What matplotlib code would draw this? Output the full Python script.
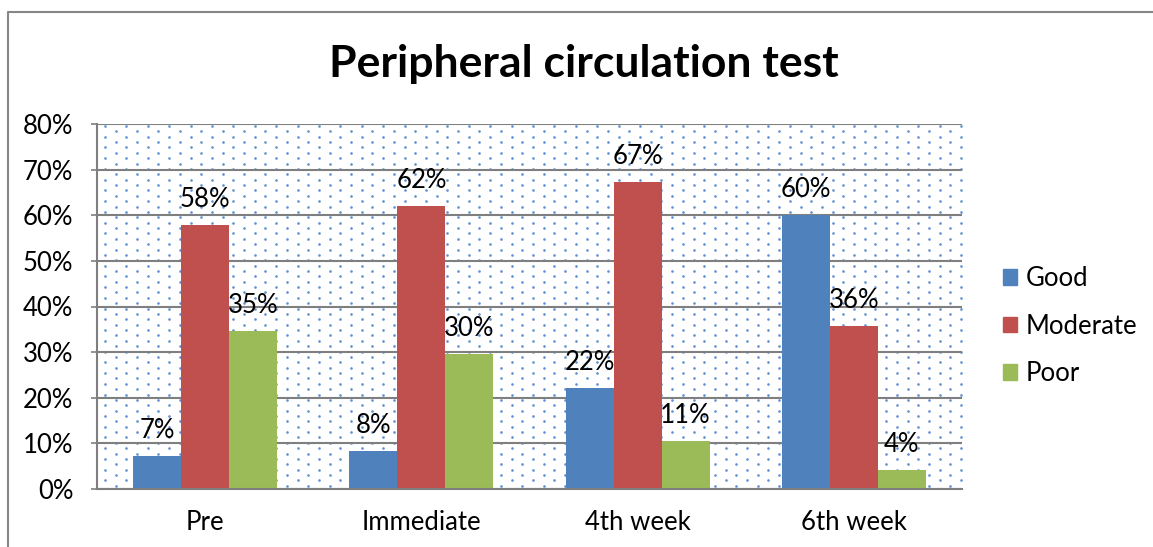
import numpy as np
import matplotlib.pyplot as plt
from matplotlib.lines import Line2D
from matplotlib.patches import Patch

plt.rcParams['font.family'] = ['Lato', 'DejaVu Sans']

categories = ['Pre', 'Immediate', '4th week', '6th week']
series = ['Good', 'Moderate', 'Poor']
good = [7.3, 8.3, 22.1, 60.0]
moderate = [57.9, 62.0, 67.3, 35.7]
poor = [34.6, 29.6, 10.6, 4.2]
colors = ['#4F81BD', '#C0504D', '#9BBB59']
yticks = [0, 10, 20, 30, 40, 50, 60, 70, 80]

W, H = 1153, 547
fs = 18.5
fig = plt.figure(figsize=(W / 100, H / 100), dpi=100)
ax = fig.add_axes([97 / W, 1 - 489 / H, 865 / W, 365 / H])

# dotted background pattern
aw, ah = 865, 365
rows = np.arange(2, ah, 5.37)
px, py = [], []
for i, yy in enumerate(rows):
    start = 8 if i % 2 == 0 else 8 + 10.7
    xs = np.arange(start, aw, 21.4)
    px.extend(xs)
    py.extend([yy] * len(xs))
ax.scatter(np.array(px) / aw, 1 - np.array(py) / ah, s=3.6, color='#5f8fd4',
           linewidths=0, transform=ax.transAxes, zorder=0.5)

x = np.arange(len(categories))
bw = 0.222
for k, (vals, col) in enumerate(zip([good, moderate, poor], colors)):
    pos = x + (k - 1) * bw
    ax.bar(pos, vals, width=bw, color=col, zorder=2, label=series[k])
    for p, v in zip(pos, vals):
        ax.annotate(f"{round(v)}%", (p, v), xytext=(0, 13), textcoords='offset points',
                    ha='center', va='baseline', fontsize=fs, zorder=3)

ax.set_xlim(-0.5, 3.5)
ax.set_ylim(0, 80)
ax.set_yticks(yticks)
ax.set_yticklabels([f"{t}%" for t in yticks], fontsize=fs)
ax.set_xticks(x)
ax.set_xticklabels(categories, fontsize=fs)
ax.yaxis.grid(True, color='#7f7f7f', linewidth=1.5, zorder=1)
ax.set_axisbelow(True)
ax.tick_params(axis='y', length=4, width=1.2, color='#7f7f7f', pad=13)
ax.tick_params(axis='x', length=0, pad=15)
for side in ['left', 'bottom']:
    ax.spines[side].set_color('#7f7f7f')
    ax.spines[side].set_linewidth(1.5)
ax.spines['right'].set_visible(False)
ax.spines['top'].set_visible(False)

fig.text(584 / W, 1 - 64 / H, 'Peripheral circulation test', ha='center', va='center',
         fontsize=32, fontweight='bold')

handles = [Patch(color=c) for c in colors]
fig.legend(handles, series, loc='center left', bbox_to_anchor=(1003 / W, 1 - 326 / H),
           frameon=False, fontsize=fs, handlelength=0.55, handleheight=0.55,
           handletextpad=0.35, labelspacing=0.88, borderaxespad=0, borderpad=0)

# outer chart border
fig.add_artist(Line2D([8 / W, 8 / W, 1.0], [0, 1 - 12 / H, 1 - 12 / H],
                      transform=fig.transFigure, color='#868686', linewidth=1.5))

fig.savefig('out.png', dpi=100)
